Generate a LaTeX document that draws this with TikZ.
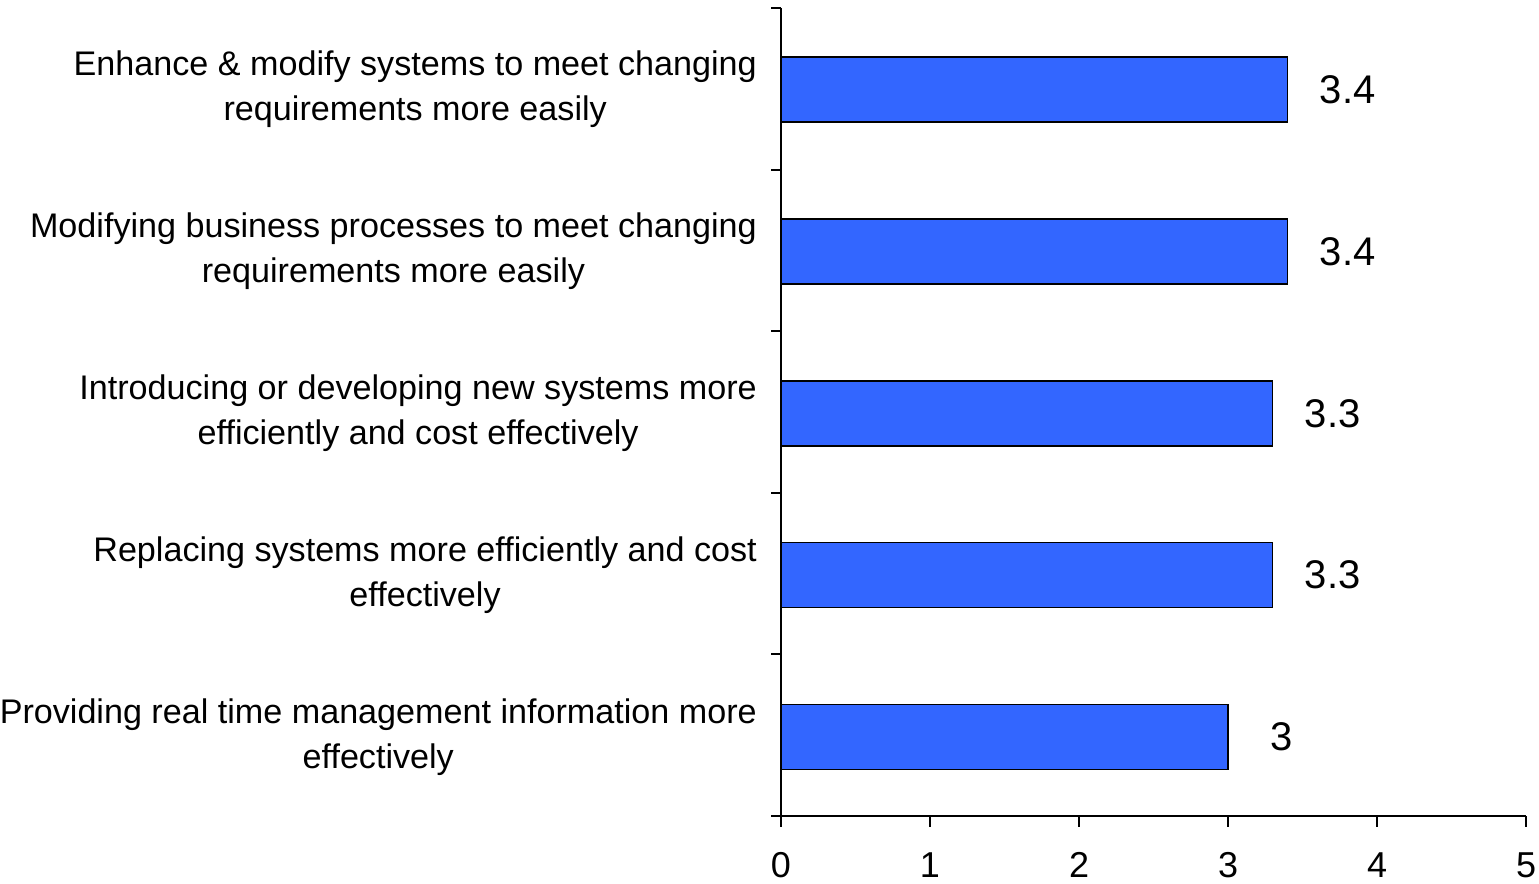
\documentclass[tikz,border=0pt]{standalone}
\usepackage{fontspec}
\setmainfont{Liberation Sans}
\usepackage{xcolor}
\usetikzlibrary{positioning}
\definecolor{barblue}{RGB}{51,102,255}

\begin{document}
\begin{tikzpicture}[x=0.75pt, y=-0.75pt,
        bar/.style={draw=black, fill=barblue, line width=1.1pt},
        axis/.style={line width=1.5pt},
        cat/.style={align=center, anchor=east, inner sep=0pt, font=\fontsize{25.6}{33.75}\selectfont},
        num/.style={inner sep=0pt, font=\fontsize{30}{34}\selectfont},
        ticklab/.style={inner sep=0pt, font=\fontsize{27}{32}\selectfont}]
        \useasboundingbox (0,0) rectangle (1539,884);

        \draw[axis] (781,8) -- (781,816) -- (1526,816);
        \foreach \i in {0,...,5}
            \draw[axis] (771,8+\i*161.6) -- (781,8+\i*161.6);
        \foreach \t in {0,...,5} {
            \draw[axis] (781+\t*149,816) -- (781+\t*149,827);
            \node[ticklab] (tick\t) at (781+\t*149,865) {\t};
        }

        \foreach \v/\d/\txt [count=\i from 0] in {
            3.4/60/{Enhance \& modify systems to meet changing\\requirements more easily},
            3.4/60/{Modifying business processes to meet changing\\requirements more easily},
            3.3/60/{Introducing or developing new systems more\\efficiently and cost effectively},
            3.3/60/{Replacing systems more efficiently and cost\\effectively},
            3/54/{Providing real time management information more\\effectively}} {
            \draw[bar] (781,57+\i*161.9) rectangle (781+\v*149,122+\i*161.9);
            \node[num] (val\i) at (781+\v*149+\d,89.5+\i*161.9) {\v};
            \node[cat] (cat\i) at (757,89.5+\i*161.9) {\txt};
        }
    \end{tikzpicture}
\end{document}
